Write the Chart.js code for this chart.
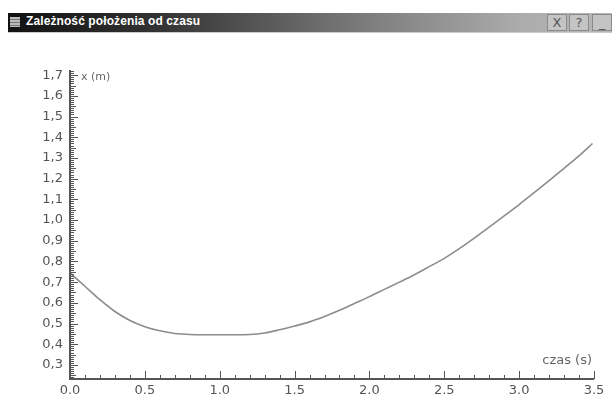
<!DOCTYPE html>
<html>
<head>
<meta charset="utf-8">
<script src="https://cdn.jsdelivr.net/npm/chart.js@4"></script>
<style>
  body { margin: 0; background: #fff; width: 612px; height: 397px; overflow: hidden; position: relative; }
  #bar {
    position: absolute; left: 8px; top: 13px; width: 604px; height: 19px;
    background: linear-gradient(to right, #111 0%, #333 25%, #7e7e7e 60%, #acacac 85%, #b8b8b8 100%);
    border-bottom: 1px solid #c8c8c8;
  }
  #bar .ico { position: absolute; left: 2px; top: 4px; width: 10px; height: 10px; background: repeating-linear-gradient(#bbb 0 2px, #777 2px 3px); }
  #bar .txt { position: absolute; left: 18px; top: 1px; font: bold 12px "Liberation Sans", Arial, sans-serif; color: #fff; letter-spacing: 0.1px; }
  #bar .btn { position: absolute; top: 1px; width: 18px; height: 15px; background: #c4c4c4; border: 1px solid #8a8a8a; font: 13px "DejaVu Sans", sans-serif; color: #555; text-align: center; line-height: 15px; }
  canvas { position: absolute; left: 0; top: 0; }
</style>
</head>
<body>
<canvas id="wykres" width="612" height="397"></canvas>
<div id="bar">
  <div class="ico"></div>
  <div class="txt">Zależność położenia od czasu</div>
  <div class="btn" style="left:539px">X</div>
  <div class="btn" style="left:561px">?</div>
  <div class="btn" style="left:584px">_</div>
</div>
<script>
// dane
const czas = [0, 0.1, 0.2, 0.3, 0.4, 0.5, 0.6, 0.7, 0.8, 0.9, 1.0, 1.1, 1.2, 1.3, 1.4, 1.5, 1.6, 1.7, 1.8,
  1.9, 2.0, 2.1, 2.2, 2.3, 2.4, 2.5, 2.6, 2.7, 2.8, 2.9, 3.0, 3.1, 3.2, 3.3, 3.4, 3.49];
const polozenie = [0.745, 0.68, 0.615, 0.558, 0.515, 0.485, 0.465, 0.452, 0.447, 0.446, 0.446, 0.446, 0.447, 0.454, 0.47, 0.488, 0.508, 0.534, 0.564,
  0.597, 0.63, 0.665, 0.70, 0.736, 0.775, 0.815, 0.862, 0.913, 0.966, 1.02, 1.075, 1.132, 1.19, 1.25, 1.31, 1.37];
const yEtykiety = ['0,3', '0,4', '0,5', '0,6', '0,7', '0,8', '0,9', '1,0', '1,1', '1,2', '1,3', '1,4', '1,5', '1,6', '1,7'];
const yWartosci = [0.3, 0.4, 0.5, 0.6, 0.7, 0.8, 0.9, 1.0, 1.1, 1.2, 1.3, 1.4, 1.5, 1.6, 1.7];
const xEtykiety = ['0.0', '0.5', '1.0', '1.5', '2.0', '2.5', '3.0', '3.5'];
const xWartosci = [0, 0.5, 1.0, 1.5, 2.0, 2.5, 3.0, 3.5];

// osie rysowane recznie (podzialki jak w oryginale)
const osie = {
  id: 'osie',
  afterDraw(chart) {
    const ctx = chart.ctx;
    const sx = chart.scales.x, sy = chart.scales.y;
    const x0 = sx.getPixelForValue(sx.min), x1 = sx.getPixelForValue(sx.max);
    const y0 = sy.getPixelForValue(sy.min), y1 = sy.getPixelForValue(sy.max);
    ctx.save();
    ctx.strokeStyle = '#555';
    ctx.lineWidth = 2;
    ctx.beginPath();
    ctx.moveTo(x0, y1); ctx.lineTo(x0, y0); ctx.lineTo(x1, y0);
    ctx.stroke();

    // podzialka Y: co 0.01, dluzsze co 0.05 i 0.1
    ctx.lineWidth = 1;
    for (let i = Math.ceil(sy.min * 100); i <= Math.floor(sy.max * 100); i++) {
      const py = Math.round(sy.getPixelForValue(i / 100)) + 0.5;
      const len = i % 10 === 0 ? 8 : (i % 5 === 0 ? 6 : 4);
      ctx.beginPath(); ctx.moveTo(x0, py); ctx.lineTo(x0 + len, py); ctx.stroke();
    }
    // podzialka X: co 0.1, dluzsze co 0.5
    for (let i = 1; i <= 35; i++) {
      const px = Math.round(sx.getPixelForValue(i / 10)) + 0.5;
      const len = i % 5 === 0 ? 8 : 4;
      ctx.beginPath(); ctx.moveTo(px, y0); ctx.lineTo(px, y0 - len); ctx.stroke();
    }

    ctx.fillStyle = '#555';
    ctx.font = '13px "DejaVu Sans"';
    ctx.textAlign = 'right';
    ctx.textBaseline = 'middle';
    yWartosci.forEach((v, i) => ctx.fillText(yEtykiety[i], x0 - 7, sy.getPixelForValue(v)));
    ctx.textAlign = 'center';
    ctx.textBaseline = 'top';
    xWartosci.forEach((v, i) => ctx.fillText(xEtykiety[i], sx.getPixelForValue(v), y0 + 5));

    ctx.fillStyle = '#666';
    ctx.font = '11px "DejaVu Sans"';
    ctx.textAlign = 'left';
    ctx.textBaseline = 'middle';
    ctx.fillText('x (m)', x0 + 11, sy.getPixelForValue(1.69));
    ctx.font = '13px "DejaVu Sans"';
    ctx.textAlign = 'right';
    ctx.fillText('czas (s)', x1 - 2, y0 - 18);
    ctx.restore();
  }
};

new Chart(document.getElementById('wykres'), {
  type: 'line',
  data: {
    datasets: [{
      data: czas.map((t, i) => ({ x: t, y: polozenie[i] })),
      borderColor: '#8c8c8c',
      borderWidth: 1.6,
      pointRadius: 0,
      cubicInterpolationMode: 'monotone',
      fill: false
    }]
  },
  options: {
    responsive: false,
    animation: false,
    layout: { padding: { left: 70, right: 18, top: 70, bottom: 18 } },
    plugins: { legend: { display: false }, tooltip: { enabled: false } },
    scales: {
      x: { type: 'linear', min: 0, max: 3.5, display: false },
      y: { type: 'linear', min: 0.232, max: 1.725, display: false }
    }
  },
  plugins: [osie]
});
</script>
</body>
</html>
